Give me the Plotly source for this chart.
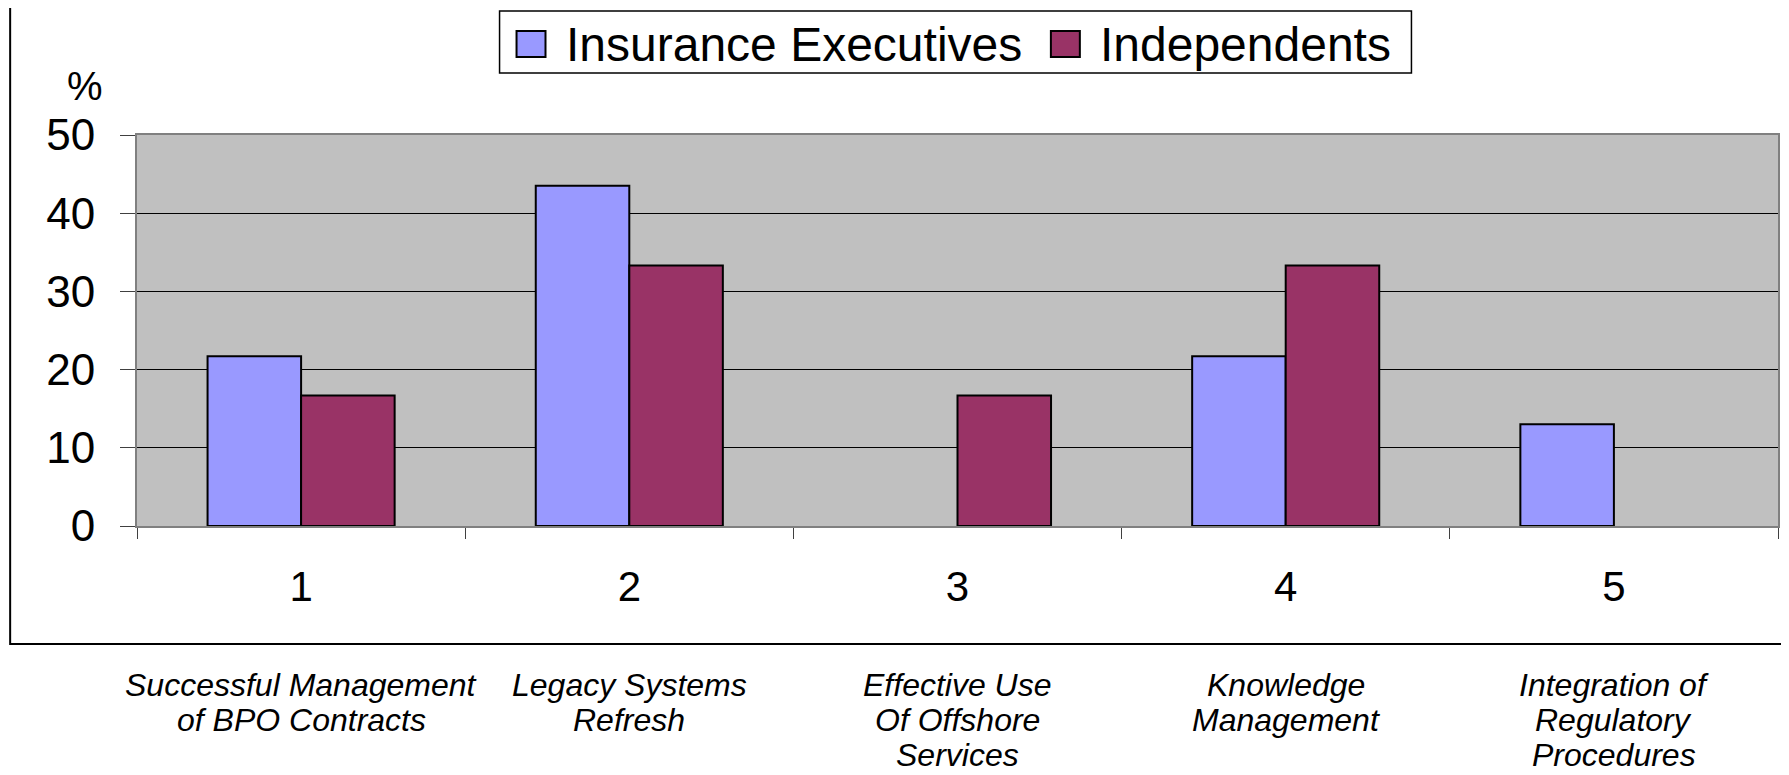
import plotly.graph_objects as go

# Data
categories = ['1', '2', '3', '4', '5']
descriptions = [
    ['Successful Management', 'of BPO Contracts'],
    ['Legacy Systems', 'Refresh'],
    ['Effective Use', 'Of Offshore', 'Services'],
    ['Knowledge', 'Management'],
    ['Integration of', 'Regulatory', 'Procedures'],
]
series_names = ['Insurance Executives', 'Independents']
insurance_exec = [21.7, 43.5, None, 21.7, 13.0]
independents = [16.7, 33.3, 16.7, 33.3, None]

COLORS = {
    'Insurance Executives': '#9999FF',
    'Independents': '#993366',
    'plot_bg': '#C0C0C0',
    'axis': '#808080',
}
FONT = 'Liberation Sans, Arial, sans-serif'

# Page geometry (reference pixels); the page body adds an 8px offset
W_REF, H_REF, OFF = 1789, 775, 8
PL, PR, PT, PB = 137, 1780, 135, 526   # plot area in reference pixels


def px_x(x):
    return (x - PL) / (PR - PL)


def px_y(y):
    return (PB - y) / (PB - PT)


fig = go.Figure()
for name, vals in zip(series_names, [insurance_exec, independents]):
    fig.add_trace(go.Bar(
        name=name,
        x=categories,
        y=vals,
        marker=dict(color=COLORS[name], line=dict(color='black', width=2)),
        showlegend=False,
        hovertemplate='<b>%{x}</b><br>' + name + ': %{y}%<extra></extra>'
    ))

annotations = []
# category descriptions under the chart, one annotation per line
for i, lines in enumerate(descriptions):
    for j, line in enumerate(lines):
        annotations.append(dict(
            x=i, xref='x', y=px_y(685 + 35 * j), yref='paper',
            text=line, showarrow=False, xanchor='center', yanchor='middle',
            font=dict(family=FONT, size=32, color='black', style='italic')
        ))

# "%" label above the y axis
annotations.append(dict(
    x=px_x(85), y=px_y(86), xref='paper', yref='paper', text='%',
    showarrow=False, xanchor='center', yanchor='middle',
    font=dict(family=FONT, size=40, color='black')
))

# custom legend (big square swatches like the original)
shapes = []
legend_items = [
    (series_names[0], 517, 546, 565),
    (series_names[1], 1052, 1081, 1099),
]
for name, ix0, ix1, tx in legend_items:
    shapes.append(dict(
        type='rect', xref='paper', yref='paper',
        x0=px_x(ix0), x1=px_x(ix1), y0=px_y(57), y1=px_y(31),
        fillcolor=COLORS[name], line=dict(color='black', width=2)
    ))
    annotations.append(dict(
        x=px_x(tx), y=px_y(44), xref='paper', yref='paper', text=name,
        showarrow=False, xanchor='left', yanchor='middle',
        font=dict(family=FONT, size=48, color='black')
    ))
shapes.append(dict(
    type='rect', xref='paper', yref='paper',
    x0=px_x(500), x1=px_x(1413), y0=px_y(73), y1=px_y(11),
    line=dict(color='black', width=1.5), fillcolor='rgba(0,0,0,0)'
))

# outer chart frame (left edge kept just inside the page)
shapes.append(dict(
    type='rect', xref='paper', yref='paper',
    x0=px_x(OFF + 2), x1=px_x(1800), y0=px_y(644), y1=px_y(-10),
    line=dict(color='black', width=2), fillcolor='rgba(0,0,0,0)',
    layer='below'
))

fig.update_layout(
    width=W_REF - OFF, height=H_REF - OFF,
    margin=dict(l=PL - OFF, r=W_REF - PR, t=PT - OFF, b=H_REF - PB),
    paper_bgcolor='white',
    plot_bgcolor=COLORS['plot_bg'],
    barmode='group',
    bargap=0.43,
    bargroupgap=0,
    showlegend=False,
    font=dict(family=FONT, color='black'),
    annotations=annotations,
    shapes=shapes,
    xaxis=dict(
        type='category',
        range=[-0.5, len(categories) - 0.5],
        tickson='boundaries',
        ticks='outside', ticklen=11, tickwidth=1, tickcolor='#404040',
        showgrid=False,
        showline=True, linecolor=COLORS['axis'], linewidth=2, mirror=True,
        tickfont=dict(family=FONT, size=42, color='black'),
        ticklabelstandoff=23,
    ),
    yaxis=dict(
        range=[0, 50], dtick=10,
        ticks='outside', ticklen=15, tickwidth=1, tickcolor='#404040',
        showgrid=True, gridcolor='black', gridwidth=1,
        zeroline=False,
        showline=True, linecolor=COLORS['axis'], linewidth=2, mirror=True,
        tickfont=dict(family=FONT, size=44, color='black'),
        ticklabelstandoff=16,
    ),
)

fig.write_html("out.html")
